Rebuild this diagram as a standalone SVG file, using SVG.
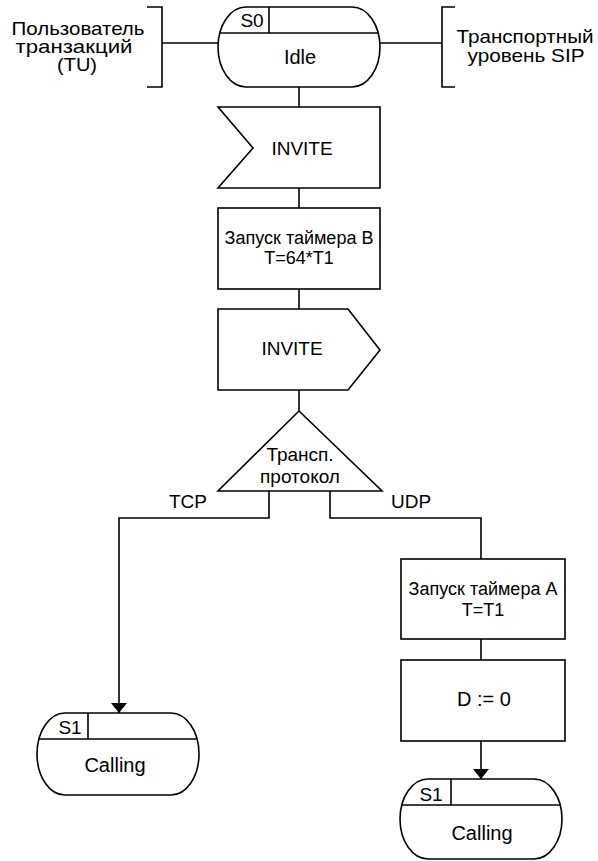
<svg xmlns="http://www.w3.org/2000/svg" width="598" height="861" viewBox="0 0 598 861">
<defs>
<style>
.s{fill:#fff;stroke:#000;stroke-width:1.6}
.l{fill:none;stroke:#000;stroke-width:1.6}
.t{font-family:"Liberation Sans",Arial,sans-serif;font-size:19px;fill:#000;text-anchor:middle}
.sm{font-size:18px}
.lg{font-size:20px}
</style>
<marker id="arr" viewBox="0 0 10 16" refX="10" refY="8" markerWidth="10" markerHeight="16" markerUnits="userSpaceOnUse" orient="auto">
<path d="M0,0 L10,8 L0,16 Z" fill="#000"/>
</marker>
</defs>
<rect width="598" height="861" fill="#fff"/>
<g id="connectors">
<line class="l" x1="162" y1="43" x2="218" y2="43"/>
<line class="l" x1="380" y1="43" x2="442" y2="43"/>
<line class="l" x1="299" y1="87" x2="299" y2="107"/>
<line class="l" x1="299" y1="188" x2="299" y2="208"/>
<line class="l" x1="299" y1="289" x2="299" y2="309"/>
<line class="l" x1="299" y1="390" x2="299" y2="411"/>
<path class="l" d="M269,491 V518 H119 V713" marker-end="url(#arr)"/>
<path class="l" d="M330,491 V518 H481 V559"/>
<line class="l" x1="481" y1="639" x2="481" y2="660"/>
<line class="l" x1="481" y1="741" x2="481" y2="779" marker-end="url(#arr)"/>
<text class="t" x="188" y="508">TCP</text>
<text class="t" x="411" y="508">UDP</text>
</g>
<g id="env_tu">
<path class="l" d="M147,7 H162 V87 H147"/>
<text class="t" x="78" y="35" textLength="133" lengthAdjust="spacingAndGlyphs">Пользователь</text>
<text class="t" x="74" y="53" textLength="117" lengthAdjust="spacingAndGlyphs">транзакций</text>
<text class="t" x="77" y="71" textLength="40" lengthAdjust="spacingAndGlyphs">(TU)</text>
</g>
<g id="env_sip">
<path class="l" d="M455,7 H442 V87 H455"/>
<text class="t" x="525" y="43" textLength="137" lengthAdjust="spacingAndGlyphs">Транспортный</text>
<text class="t" x="526" y="62" textLength="117" lengthAdjust="spacingAndGlyphs">уровень  SIP</text>
</g>
<g id="state_s0">
<path class="s" d="M246,7 H352 A28,40 0 0 1 352,87 H246 A28,40 0 0 1 246,7 Z"/>
<line class="l" x1="220" y1="33" x2="378" y2="33"/>
<line class="l" x1="269" y1="7" x2="269" y2="33"/>
<text class="t" x="252" y="27">S0</text>
<text class="t lg" x="300" y="64">Idle</text>
</g>
<g id="input_invite">
<polygon class="s" points="218,107 380,107 380,188 218,188 253,148"/>
<text class="t" x="302" y="155">INVITE</text>
</g>
<g id="task_timer_b">
<rect class="s" x="218" y="208" width="162" height="81"/>
<text class="t sm" x="299" y="244">Запуск таймера B</text>
<text class="t sm" x="299" y="264">T=64*T1</text>
</g>
<g id="output_invite">
<polygon class="s" points="218,309 348,309 380,350 348,390 218,390"/>
<text class="t" x="292" y="355">INVITE</text>
</g>
<g id="decision_transport">
<polygon class="s" points="299,411 382,491 218,491"/>
<text class="t" x="300" y="461">Трансп.</text>
<text class="t" x="300" y="483">протокол</text>
</g>
<g id="task_timer_a">
<rect class="s" x="401" y="559" width="164" height="80"/>
<text class="t sm" x="483" y="595">Запуск таймера A</text>
<text class="t sm" x="483" y="616">T=T1</text>
</g>
<g id="task_d">
<rect class="s" x="401" y="660" width="164" height="81"/>
<text class="t lg" x="484" y="706">D := 0</text>
</g>
<g id="state_s1_tcp">
<path class="s" d="M65,713 H171 A28,41 0 0 1 171,795 H65 A28,41 0 0 1 65,713 Z"/>
<line class="l" x1="39" y1="739" x2="197" y2="739"/>
<line class="l" x1="88" y1="713" x2="88" y2="739"/>
<text class="t" x="70" y="734">S1</text>
<text class="t lg" x="115" y="772">Calling</text>
</g>
<g id="state_s1_udp">
<path class="s" d="M428,779 H534 A28,40 0 0 1 534,859 H428 A28,40 0 0 1 428,779 Z"/>
<line class="l" x1="402" y1="805" x2="560" y2="805"/>
<line class="l" x1="451" y1="779" x2="451" y2="805"/>
<text class="t" x="431" y="801">S1</text>
<text class="t lg" x="482" y="840">Calling</text>
</g>
</svg>
